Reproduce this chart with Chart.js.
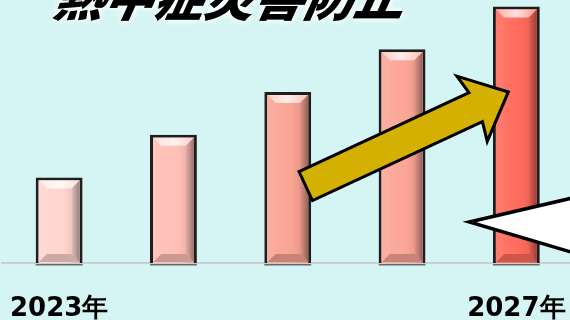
<!DOCTYPE html>
<html>
<head>
<meta charset="utf-8">
<script src="https://cdn.jsdelivr.net/npm/chart.js@4"></script>
<style>
  html, body { margin: 0; padding: 0; background: #d5f4f4; overflow: hidden; }
  #wrap { position: relative; width: 576px; height: 320px; }
</style>
</head>
<body>
<div id="wrap"><canvas id="myChart" width="576" height="320"></canvas></div>
<script>
'use strict';

let years = ['2023年', '2024年', '2025年', '2026年', '2027年'];
let counts = [2, 3, 4, 5, 6];
let shownLabels = ['2023年', '2027年'];
let barColors = ['#ffd5cf', '#ffbfb6', '#f9a493', '#fba597', '#ff6b5b'];
let titleText = '熱中症災害防止';

function shade(hex, amt) {
    let n = parseInt(hex.slice(1), 16);
    let r = (n >> 16) & 255, g = (n >> 8) & 255, b = n & 255;
    let f = amt < 0 ? 0 : 255;
    let p = Math.abs(amt);
    r = Math.round(r + (f - r) * p);
    g = Math.round(g + (f - g) * p);
    b = Math.round(b + (f - b) * p);
    return 'rgb(' + r + ',' + g + ',' + b + ')';
}

// bevel look on each bar, drawn from the bar elements
let bevelPlugin = {
    id: 'bevel',
    afterDatasetsDraw(chart) {
        let ctx = chart.ctx;
        let meta = chart.getDatasetMeta(0);
        meta.data.forEach(function (bar, i) {
            let c = barColors[i];
            let l = bar.x - bar.width / 2 + 3;
            let r = bar.x + bar.width / 2 - 3;
            let t = bar.y + 3;
            let b = bar.base - 1;
            let s = 8;
            ctx.save();
            // top
            let gt = ctx.createLinearGradient(l, 0, r, 0);
            gt.addColorStop(0, shade(c, 0.45));
            gt.addColorStop(0.5, shade(c, 0.8));
            gt.addColorStop(1, shade(c, 0.3));
            ctx.fillStyle = gt;
            ctx.beginPath();
            ctx.moveTo(l, t); ctx.lineTo(r, t); ctx.lineTo(r - s, t + s); ctx.lineTo(l + s, t + s);
            ctx.closePath(); ctx.fill();
            // bottom
            ctx.fillStyle = shade(c, -0.2);
            ctx.beginPath();
            ctx.moveTo(l, b); ctx.lineTo(r, b); ctx.lineTo(r - s, b - s); ctx.lineTo(l + s, b - s);
            ctx.closePath(); ctx.fill();
            // right side
            let g = ctx.createLinearGradient(r - s, 0, r, 0);
            g.addColorStop(0, shade(c, -0.1));
            g.addColorStop(1, shade(c, -0.4));
            ctx.fillStyle = g;
            ctx.beginPath();
            ctx.moveTo(r, t); ctx.lineTo(r, b); ctx.lineTo(r - s, b - s); ctx.lineTo(r - s, t + s);
            ctx.closePath(); ctx.fill();
            // left side
            ctx.fillStyle = shade(c, 0.1);
            ctx.beginPath();
            ctx.moveTo(l, t); ctx.lineTo(l, b); ctx.lineTo(l + s, b - s); ctx.lineTo(l + s, t + s);
            ctx.closePath(); ctx.fill();
            // shadow line under the bar
            ctx.fillStyle = '#6a6a6a';
            ctx.fillRect(l - 3, bar.base + 1, r - l + 6, 1.5);
            ctx.restore();
        });
    }
};

// title, arrow and callout shapes
let decoPlugin = {
    id: 'deco',
    afterDraw(chart) {
        let ctx = chart.ctx;
        let xs = chart.scales.x;
        let ys = chart.scales.y;
        ctx.save();

        // rising arrow
        let x0 = xs.getPixelForValue(2) + 18;
        let y0 = ys.getPixelForValue(1.8);
        let x1 = xs.getPixelForValue(4) - 8;
        let y1 = ys.getPixelForValue(4.0);
        let ang = Math.atan2(y1 - y0, x1 - x0);
        let len = Math.hypot(x1 - x0, y1 - y0);
        ctx.translate(x0, y0);
        ctx.rotate(ang);
        ctx.beginPath();
        ctx.moveTo(0, -16);
        ctx.lineTo(len - 36, -16);
        ctx.lineTo(len - 40, -36);
        ctx.lineTo(len, 0);
        ctx.lineTo(len - 40, 36);
        ctx.lineTo(len - 36, 16);
        ctx.lineTo(0, 16);
        ctx.closePath();
        ctx.fillStyle = '#d4b000';
        ctx.fill();
        ctx.lineWidth = 3;
        ctx.strokeStyle = '#000';
        ctx.lineJoin = 'miter';
        ctx.stroke();
        ctx.setTransform(1, 0, 0, 1, 0, 0);

        // callout pointer coming in from the right
        let tx = xs.getPixelForValue(4) - 47;
        let ty = ys.getPixelForValue(0.96);
        ctx.beginPath();
        ctx.moveTo(tx, ty);
        ctx.lineTo(chart.width + 5, ty - 26);
        ctx.lineTo(chart.width + 5, ty + 33);
        ctx.closePath();
        ctx.fillStyle = '#ffffff';
        ctx.fill();
        ctx.lineWidth = 3.5;
        ctx.strokeStyle = '#000';
        ctx.stroke();

        // title, cut off at the top edge
        ctx.font = 'italic 900 50px "Noto Sans CJK JP"';
        ctx.textAlign = 'center';
        ctx.textBaseline = 'alphabetic';
        ctx.shadowColor = 'rgba(255,255,255,0.95)';
        ctx.shadowBlur = 7;
        ctx.fillStyle = '#000';
        ctx.setTransform(1, 0, -0.2, 1, 0, 0);
        ctx.fillText(titleText, 227 + 0.2 * 16, 16);
        ctx.fillText(titleText, 227 + 0.2 * 16, 16);
        ctx.restore();
    }
};

function barFill(c) {
    let col = barColors[c.dataIndex];
    let area = c.chart.chartArea;
    let xs = c.chart.scales.x;
    if (!area || !xs) return col;
    let cx = xs.getPixelForValue(c.dataIndex);
    let w = (area.right - area.left) / years.length * 0.4;
    if (!isFinite(cx) || !isFinite(w)) return col;
    let g = c.chart.ctx.createLinearGradient(cx - w / 2, 0, cx + w / 2, 0);
    g.addColorStop(0, shade(col, 0.1));
    g.addColorStop(0.6, col);
    g.addColorStop(1, shade(col, -0.15));
    return g;
}

let ctx = document.getElementById('myChart').getContext('2d');
let myChart = new Chart(ctx, {
    type: 'bar',
    data: {
        labels: years,
        datasets: [{
            data: counts,
            backgroundColor: barFill,
            borderColor: '#1e1e1e',
            borderWidth: { top: 3, left: 3, right: 3, bottom: 0 },
            borderSkipped: false,
            barPercentage: 0.41,
            categoryPercentage: 1
        }]
    },
    options: {
        responsive: false,
        animation: false,
        layout: { padding: { left: 2, right: 2.5, top: 0, bottom: 0 } },
        plugins: {
            legend: { display: false },
            tooltip: { enabled: false }
        },
        scales: {
            y: {
                display: false,
                min: 0,
                max: 6.15
            },
            x: {
                grid: { display: false, drawTicks: false, tickLength: 0 },
                border: { display: true, color: '#c9cfcf', width: 2 },
                ticks: {
                    padding: 2.25,
                    autoSkip: false,
                    maxRotation: 0,
                    color: '#000',
                    font: { family: 'DejaVu Sans', weight: 'bold', size: 26, lineHeight: 0.673 },
                    callback: function (v, i) {
                        let lab = this.getLabelForValue(v);
                        // blank lines push the year down like the original
                        return shownLabels.includes(lab) ? ['', '', lab] : '';
                    }
                }
            }
        }
    },
    plugins: [bevelPlugin, decoPlugin]
});
</script>
</body>
</html>
